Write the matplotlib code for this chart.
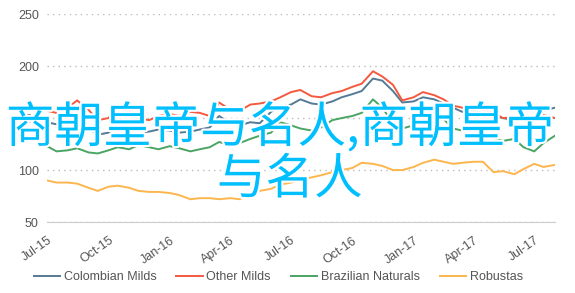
import numpy as np
import pandas as pd
import matplotlib
matplotlib.use('Agg')
import matplotlib.pyplot as plt
import matplotlib.dates as mdates
import matplotlib.patheffects as pe

# semi-monthly samples, Jul 2015 - Aug 2017
DATES = pd.date_range('2015-07-01', periods=51, freq='SMS')

COLOMBIAN = [146, 144, 142, 148, 140, 134, 136, 140, 137, 136, 137, 139, 138,
             136, 137, 139, 141, 152, 145, 143, 146, 145, 156, 161, 163, 168,
             164, 163, 166, 170, 173, 176, 188, 186, 176, 165, 166, 170, 168,
             164, 160, 156, 157, 155, 152, 150, 148, 149, 151, 157, 160]
OTHER = [157, 155, 160, 167, 158, 148, 150, 160, 157, 150, 148, 152, 154,
         152, 156, 155, 152, 165, 158, 157, 163, 164, 166, 170, 175, 177,
         171, 170, 174, 176, 180, 183, 195, 190, 182, 167, 170, 175, 172,
         168, 162, 160, 160, 158, 155, 150, 151, 149, 150, 153, 150]
BRAZILIAN = [123, 118, 119, 121, 117, 116, 119, 122, 120, 124, 122, 120, 123,
             121, 118, 120, 122, 127, 124, 126, 130, 133, 136, 146, 143, 140,
             138, 141, 148, 150, 152, 155, 168, 160, 145, 140, 143, 146, 147,
             149, 140, 138, 139, 135, 131, 128, 130, 122, 118, 126, 133]
ROBUSTAS = [90, 88, 88, 87, 83, 80, 84, 85, 83, 80, 79, 79, 78,
            76, 72, 73, 73, 72, 73, 72, 77, 80, 82, 86, 88, 91,
            93, 95, 98, 100, 102, 107, 106, 104, 100, 100, 103, 107, 110,
            108, 106, 107, 108, 108, 98, 99, 96, 101, 106, 103, 105]

SERIES = ['Colombian Milds', 'Other Milds', 'Brazilian Naturals', 'Robustas']
COLORS = ['#557a95', '#f4593f', '#4aa564', '#fdb64e']
OVERLAY = ['商朝皇帝与名人,商朝皇帝', '与名人']

plt.rcParams['font.family'] = ['Liberation Sans', 'DejaVu Sans']

fig = plt.figure(figsize=(5.75, 2.93), dpi=100)
ax = fig.add_axes([0.082, 0.242, 0.883, 0.710])

for name, vals, col in zip(SERIES, [COLOMBIAN, OTHER, BRAZILIAN, ROBUSTAS], COLORS):
    ax.plot(DATES, vals, color=col, lw=1.4, label=name)

ax.set_ylim(50, 250)
ax.set_yticks([50, 100, 150, 200, 250])
ax.set_xlim(DATES[0], DATES[-1])
ax.xaxis.set_major_locator(mdates.MonthLocator(bymonth=[1, 4, 7, 10]))
ax.xaxis.set_major_formatter(mdates.DateFormatter('%b-%y'))
for lbl in ax.get_xticklabels():
    lbl.set_rotation(35)
    lbl.set_ha('right')
    lbl.set_rotation_mode('anchor')

ax.tick_params(length=0, labelsize=9, colors='#555555', pad=6)
ax.tick_params(axis='x', pad=9)
ax.grid(axis='y', ls=(0, (1, 3)), color='#bbbbbb', lw=1)
for s in ['top', 'right', 'left']:
    ax.spines[s].set_visible(False)
ax.spines['bottom'].set_color('#cccccc')

fig.legend(loc='center', bbox_to_anchor=(0.484, 0.055), ncol=4, frameon=False,
           fontsize=9, handlelength=2.1, columnspacing=1.6, handletextpad=0.3,
           labelcolor='#555555')

fx = dict(color='#00bfff', fontsize=35, ha='center', va='center',
          family=['Noto Sans CJK SC', 'DejaVu Sans'],
          path_effects=[pe.withStroke(linewidth=3, foreground='white')])
fig.text(0.487, 1 - 128 / 293, OVERLAY[0], **fx)
fig.text(0.504, 1 - 180 / 293, OVERLAY[1], **fx)

fig.savefig('out.png', dpi=100)
